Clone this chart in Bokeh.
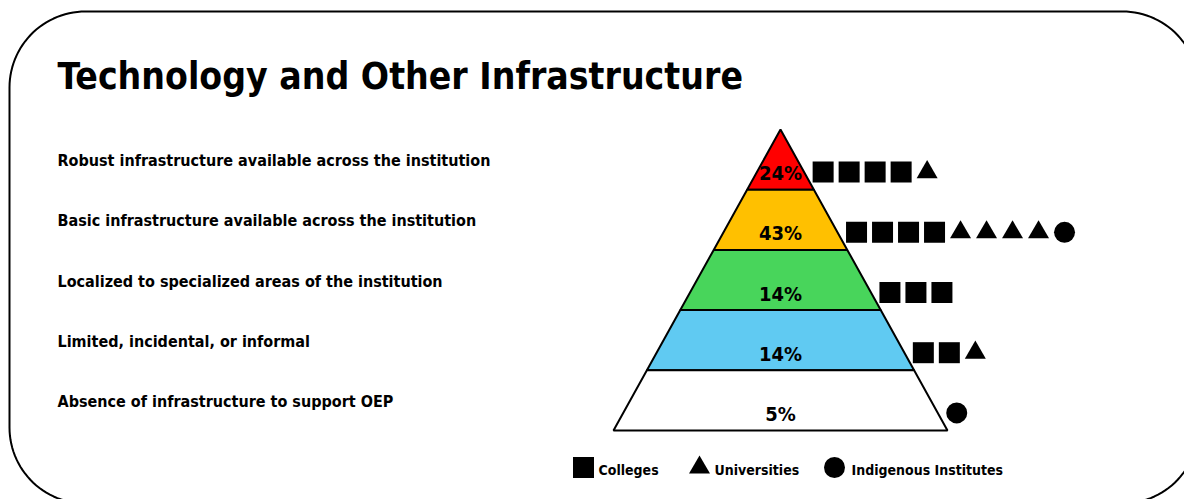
import numpy as np
from bokeh.plotting import figure
from bokeh.models import Range1d
from bokeh.core.properties import value
from bokeh.embed import file_html
from bokeh.resources import INLINE

# ---------------- data ----------------
title = "Technology and Other Infrastructure"
levels = [
    "Robust infrastructure available across the institution",
    "Basic infrastructure available across the institution",
    "Localized to specialized areas of the institution",
    "Limited, incidental, or informal",
    "Absence of infrastructure to support OEP",
]
percents = [24, 43, 14, 14, 5]
tier_colors = ["#FF0000", "#FFC000", "#48D55B", "#60CAF2", "#FFFFFF"]
colleges = [4, 4, 3, 2, 0]
universities = [1, 4, 0, 1, 0]
indigenous = [0, 1, 0, 0, 1]
legend_labels = ["Colleges", "Universities", "Indigenous Institutes"]
legend_markers = ["square", "triangle", "circle"]

FONT = value("DejaVu Sans Condensed")
BASE_SHIFT = 0.35  # em offset between requested and rendered alphabetic baseline

# ---------------- layout ----------------
W, H = 1184, 499
p = figure(width=W, height=H, output_backend="svg", toolbar_location=None,
           x_range=Range1d(0, W), y_range=Range1d(H, 0),
           min_border=0, outline_line_color=None, background_fill_color="white")
p.axis.visible = False
p.grid.visible = False

# rounded frame
def rounded_rect(x0, y0, x1, y1, r, n=30):
    xs, ys = [], []
    corners = [(x1 - r, y0 + r, -90, 0), (x1 - r, y1 - r, 0, 90),
               (x0 + r, y1 - r, 90, 180), (x0 + r, y0 + r, 180, 270)]
    for cx, cy, a0, a1 in corners:
        t = np.radians(np.linspace(a0, a1, n))
        xs.extend(cx + r * np.cos(t))
        ys.extend(cy + r * np.sin(t))
    xs.append(xs[0]); ys.append(ys[0])
    return xs, ys

fx, fy = rounded_rect(9, 11, 1198, 503, 76)
p.line(fx, fy, line_color="black", line_width=2)

# title
ts = 37
p.text(x=[57], y=[88.5 - BASE_SHIFT * ts], text=[title], text_font=FONT, text_font_style="bold",
       text_font_size=f"{ts}px", text_color="black", text_baseline="alphabetic")

# pyramid geometry
apex_x, apex_y, base_y, base_half = 780.0, 129.0, 430.0, 167.0
slope = base_half / (base_y - apex_y)
n = len(levels)
tier_h = (base_y - apex_y) / n
tops = [apex_y + tier_h * i for i in range(n)]
bots = [t + tier_h for t in tops]
hw = lambda y: (y - apex_y) * slope

xs_p, ys_p = [], []
for t, b in zip(tops, bots):
    xs_p.append([apex_x - hw(t), apex_x + hw(t), apex_x + hw(b), apex_x - hw(b)])
    ys_p.append([t, t, b, b])
p.patches(xs_p, ys_p, fill_color=tier_colors, line_color="black", line_width=2)

# percent labels
row_y = [(t + b) / 2 + 12.5 for t, b in zip(tops, bots)]
p.text(x=[apex_x] * n, y=[y + 1 for y in row_y], text=[f"{v}%" for v in percents], text_font=FONT,
       text_font_style="bold", text_font_size="20px", text_color="black",
       text_align="center", text_baseline="middle")

# level labels
ls = 16
p.text(x=[57] * n, y=[b - 23.5 - BASE_SHIFT * ls for b in bots], text=levels, text_font=FONT,
       text_font_style="bold", text_font_size=f"{ls}px", text_color="black",
       text_baseline="alphabetic")

# markers
step = 26
mx, my, mk = [], [], []
for i in range(n):
    x0 = apex_x + hw(row_y[i]) + 19
    seq = ["square"] * colleges[i] + ["triangle"] * universities[i] + ["circle"] * indigenous[i]
    for j, m in enumerate(seq):
        mx.append(x0 + step * j); my.append(row_y[i]); mk.append(m)
p.scatter(x=mx, y=my, marker=mk, size=21, fill_color="black", line_color="black", line_width=0)

# legend
gs = 14
leg_marker_x = [583, 699, 834]
leg_text_x = [598, 714, 851]
p.scatter(x=leg_marker_x, y=[467] * 3, marker=legend_markers, size=21,
          fill_color="black", line_color="black", line_width=0)
p.text(x=leg_text_x, y=[474.7 - BASE_SHIFT * gs] * 3, text=legend_labels, text_font=FONT,
       text_font_style="bold", text_font_size=f"{gs}px", text_color="black",
       text_baseline="alphabetic")

open("out.html", "w").write(file_html(p, INLINE))
